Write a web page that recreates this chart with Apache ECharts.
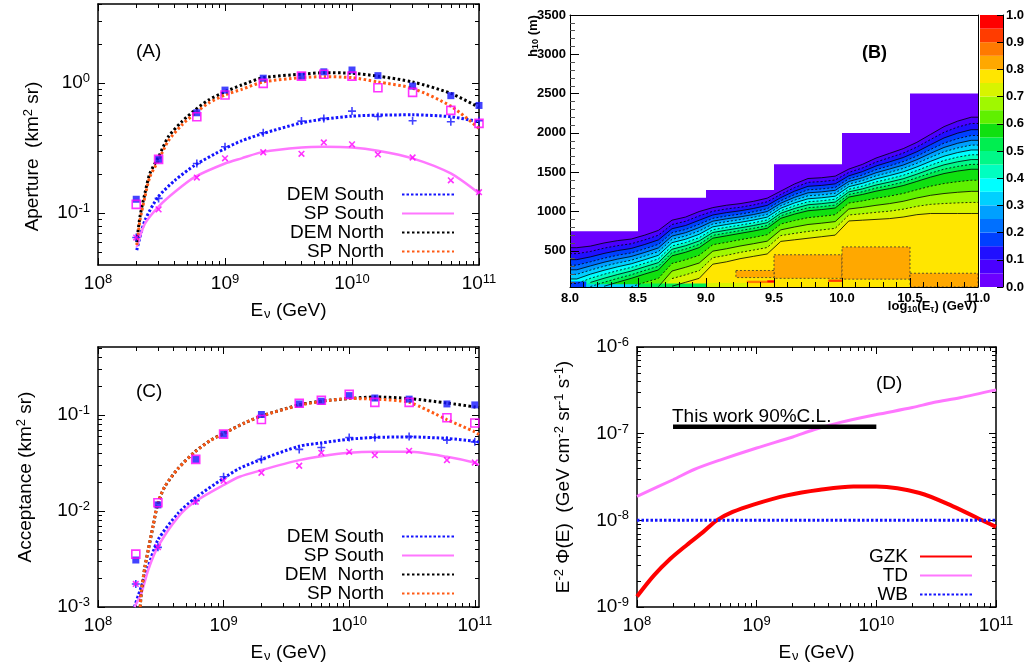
<!DOCTYPE html>
<html><head><meta charset="utf-8">
<script src="https://cdn.jsdelivr.net/npm/echarts@6/dist/echarts.min.js"></script>
<style>html,body{margin:0;padding:0;background:#fff}#c{width:1024px;height:671px}</style>
</head><body><div id="c"></div>
<script>
// ---------------- DATA ----------------
// Panels A and C: simulated energies of the points
const ptsE = [2e8,3e8,6e8,1e9,2e9,4e9,6e9,1e10,1.6e10,3e10,6e10,1e11];
// Panel A: aperture (km^2 sr)
const apDemSouthPts = [0.065,0.130,0.241,0.324,0.415,0.51,0.535,0.609,0.554,0.513,0.504,0.513];
const apSpSouthPts  = [0.065,0.107,0.188,0.264,0.294,0.286,0.35,0.338,0.283,0.268,0.179,0.145];
const apDemNorthPts = [0.128,0.259,0.591,0.883,1.09,1.13,1.22,1.26,1.14,0.948,0.80,0.673];
const apSpNorthPts  = [0.117,0.259,0.551,0.809,0.994,1.13,1.17,1.13,0.92,0.848,0.617,0.49];
const apNorthFitE   = [2.02e8,2.14e8,2.34e8,2.56e8,3e8,3.58e8,4.56e8,5.8e8,7.4e8,1e9,1.35e9,2e9,4e9,6e9,1e10,1.6e10,3e10,6e10,1e11];
const apDemNorthFit = [0.060,0.094,0.142,0.202,0.271,0.386,0.504,0.62,0.74,0.857,0.966,1.10,1.17,1.2,1.19,1.13,1.02,0.833,0.65];
const apSpNorthFit  = [0.057,0.088,0.133,0.19,0.256,0.36,0.475,0.585,0.70,0.81,0.894,1.02,1.1,1.12,1.1,1.02,0.91,0.665,0.448];
const apSouthFitE   = [2.02e8,2.34e8,2.99e8,4.04e8,5.8e8,1e9,1.35e9,2e9,4e9,6e9,1e10,1.6e10,3e10,6e10,1e11];
const apDemSouthFit = [0.052,0.088,0.134,0.179,0.234,0.314,0.36,0.41,0.495,0.528,0.557,0.567,0.57,0.551,0.504];
const apSpSouthFit  = [0.055,0.083,0.112,0.146,0.19,0.241,0.264,0.296,0.32,0.324,0.32,0.302,0.264,0.202,0.142];
// Panel C: acceptance (km^2 sr)
const accDemNorthPts = [3.09e-3,0.0116,0.0346,0.0634,0.1016,0.131,0.14,0.16,0.151,0.147,0.131,0.128];
const accSpNorthPts  = [3.56e-3,0.0122,0.0346,0.0634,0.090,0.133,0.143,0.165,0.136,0.136,0.094,0.083];
const accDemSouthPts = [1.74e-3,4.19e-3,0.0128,0.0228,0.0346,0.044,0.046,0.0586,0.0586,0.060,0.055,0.0527];
const accSpSouthPts  = [1.74e-3,4.2e-3,0.0125,0.0207,0.0251,0.0297,0.0405,0.0415,0.0383,0.0425,0.034,0.0321];
const accNorthFitE   = [2.17e8,2.21e8,2.36e8,2.51e8,2.74e8,3e8,3.4e8,4.35e8,5.9e8,7.9e8,1e9,1.47e9,2e9,4e9,6e9,1e10,1.6e10,3e10,6e10,1e11,1.08e11];
const accDemNorthFit = [1.0e-3,1.4e-3,2.6e-3,3.9e-3,6.9e-3,0.012,0.0179,0.0279,0.0415,0.055,0.0645,0.083,0.098,0.128,0.14,0.149,0.155,0.149,0.134,0.122,0.12];
const accSpNorthFit  = [1.0e-3,1.45e-3,2.6e-3,3.95e-3,7.0e-3,0.0122,0.018,0.0278,0.0413,0.0548,0.0643,0.083,0.098,0.127,0.139,0.149,0.147,0.136,0.090,0.067,0.063];
const accSouthFitE   = [1.95e8,2.21e8,2.51e8,3e8,4.35e8,5.9e8,1e9,1.34e9,2e9,4e9,6e9,1e10,1.6e10,3e10,6e10,1e11,1.08e11];
const accDemSouthFit = [1.0e-3,1.63e-3,2.63e-3,5.0e-3,9.5e-3,0.0136,0.022,0.0279,0.0346,0.0475,0.0514,0.0562,0.0586,0.0594,0.0572,0.0536,0.052];
const accSpSouthFit  = [1.0e-3,1.38e-3,2.43e-3,4.25e-3,8.7e-3,0.0125,0.0187,0.0228,0.0267,0.034,0.0374,0.0405,0.0415,0.0415,0.0368,0.0319,0.0302];
// Panel D: E^-2 Phi(E)
const gzkE  = [1e8,1.38e8,1.9e8,2.61e8,3.6e8,4.64e8,6.3e8,9.4e8,1.79e9,3.39e9,6.43e9,1e10,2.3e10,4.37e10,8.3e10,1e11];
const gzkFlux = [1.32e-9,2.3e-9,3.6e-9,5.2e-9,7.4e-9,1.0e-8,1.25e-8,1.52e-8,1.94e-8,2.25e-8,2.46e-8,2.45e-8,2.07e-8,1.45e-8,9.5e-9,8.4e-9];
const tdE   = [1e8,2e8,3e8,5e8,1e9,2e9,3e9,5e9,1e10,2e10,3e10,5e10,1e11];
const tdFlux = [1.89e-8,2.94e-8,3.86e-8,4.99e-8,6.84e-8,9.16e-8,1.11e-7,1.35e-7,1.66e-7,2.0e-7,2.29e-7,2.6e-7,3.2e-7];
const wbE = [1e8,1e11];
const wbFlux = [1e-8,1e-8];
const limitE = [2e8,1e10];
const limitFlux = [1.2e-7,1.2e-7];
// Tick labels
const eTickVals = [1e8,1e9,1e10,1e11];
const apTickVals = [0.1,1];
const accTickVals = [1e-3,1e-2,1e-1];
const fluxTickVals = [1e-9,1e-8,1e-7,1e-6];
const hTickVals = [500,1000,1500,2000,2500,3000,3500];
const hMinorVals = [100,200,300,400,600,700,800,900,1100,1200,1300,1400,1600,1700,1800,1900,2100,2200,2300,2400,2600,2700,2800,2900,3100,3200,3300,3400];
// Panel B: efficiency map. Column centres in log10(E/GeV)
const bColCentres = [8.05,8.15,8.25,8.35,8.45,8.55,8.65,8.75,8.85,8.95,9.05,9.15,9.25,9.35,9.45,9.55,9.65,9.75,9.85,9.95,10.05,10.15,10.25,10.35,10.45,10.55,10.65,10.75,10.85,10.95];
// top of the filled (staircase) region
const bStepX   = [8.0,8.5,9.0,9.5,10.0,10.5,11.0];
const bStepTop = [750,1175,1275,1600,2000,2500,2500];
// per column: height (m) below which efficiency exceeds 0.05,0.10,...,0.75 (0 = never)
const bContours = [
 [540,464,388,318,259,201,142,84,25,0,0,0,0,0,0],
 [560,492,423,360,308,255,203,150,98,45,0,0,0,0,0],
 [600,534,467,406,355,304,253,202,151,100,49,0,0,0,0],
 [630,566,503,444,395,346,297,248,199,150,101,0,0,0,0],
 [650,590,530,474,428,381,335,289,243,196,150,43,0,0,0],
 [700,640,581,526,480,434,388,342,297,251,205,99,0,0,0],
 [760,699,639,583,537,490,443,397,350,304,257,150,43,0,0],
 [890,835,781,730,688,646,604,562,520,478,436,340,243,147,50],
 [930,876,822,772,731,689,648,606,565,523,482,386,291,195,100],
 [1000,945,889,838,796,753,711,668,626,583,541,443,345,248,150],
 [1050,1003,956,913,877,841,805,769,733,697,661,578,496,413,330],
 [1080,1033,986,943,907,871,835,799,763,727,691,608,526,443,360],
 [1100,1054,1009,967,932,897,862,827,792,757,722,641,561,480,400],
 [1130,1084,1039,997,962,927,892,857,822,787,752,671,591,510,430],
 [1170,1124,1078,1035,1000,964,929,893,858,822,787,705,623,542,460],
 [1260,1218,1177,1138,1106,1074,1042,1010,978,946,914,841,767,694,620],
 [1350,1304,1258,1215,1180,1144,1109,1073,1038,1002,967,885,803,722,640],
 [1420,1371,1321,1276,1238,1200,1162,1124,1086,1048,1010,922,835,747,660],
 [1430,1381,1332,1287,1250,1212,1175,1137,1100,1062,1025,939,852,766,680],
 [1450,1401,1352,1307,1270,1232,1195,1157,1120,1082,1045,959,872,786,700],
 [1540,1497,1454,1415,1382,1349,1316,1283,1250,1217,1184,1108,1032,956,880],
 [1600,1554,1508,1465,1430,1394,1359,1323,1288,1252,1217,1135,1053,972,890],
 [1680,1629,1579,1532,1493,1454,1415,1376,1337,1298,1259,1169,1079,990,900],
 [1740,1686,1632,1582,1541,1499,1458,1416,1375,1333,1292,1196,1101,1005,910],
 [1800,1743,1687,1635,1591,1548,1504,1461,1417,1374,1330,1230,1130,1030,930],
 [1880,1820,1760,1705,1659,1613,1567,1521,1475,1429,1383,1277,1172,1066,960],
 [1980,1915,1849,1789,1739,1689,1638,1588,1538,1488,1437,1322,1206,1091,975],
 [2080,2008,1936,1870,1815,1760,1704,1649,1594,1539,1483,1356,1229,1102,975],
 [2150,2074,1997,1927,1868,1809,1750,1692,1633,1574,1515,1380,1245,1110,975],
 [2200,2120,2041,1967,1906,1845,1783,1722,1661,1600,1538,1398,1257,1116,975]
];
// extra patches [x0, x1, h0, h1, level]
const bPatches = [
 [9.5,10.0,150,450,16],[9.22,9.5,160,250,16],[10.0,10.5,140,550,16],[10.5,11.0,40,215,16],
 [8.0,8.12,40,110,3],[8.12,8.5,40,75,6],[8.5,9.0,40,85,10],[9.0,9.3,40,90,14],
 [9.3,9.45,90,120,17],[9.45,9.5,95,125,19],[9.9,10.0,105,135,18]
];
const bLevelColors = ['#6c00ff','#4a00ff','#2010ff','#0040ff','#0070ff','#00a0ff','#00d0ff','#00ffff','#00ffc0','#00f888',
                      '#00ee50','#10e010','#60f000','#a0f800','#d8f400','#ffe600','#ffa800','#ff7a00','#ff3c00','#ff0000'];
const cbarLevels = [0,0.05,0.1,0.15,0.2,0.25,0.3,0.35,0.4,0.45,0.5,0.55,0.6,0.65,0.7,0.75,0.8,0.85,0.9,0.95,1.0];

// ---------------- STYLE HELPERS ----------------
const FONT = 'Liberation Sans';
const richG = {
  m:   {fontFamily: FONT, fontSize: 19, color: '#000'},
  sup: {fontFamily: FONT, fontSize: 13, color: '#000', padding: [0,0,9,0]},
  sub: {fontFamily: FONT, fontSize: 13, color: '#000', padding: [8,0,0,1]}
};
const richB = {
  b:   {fontFamily: FONT, fontWeight: 'bold', fontSize: 13, color: '#000'},
  sub: {fontFamily: FONT, fontWeight: 'bold', fontSize: 9, color: '#000', padding: [6,0,0,0]}
};
function powLabel(v) { return '{m|10}{sup|' + Math.round(Math.log10(v)) + '}'; }
function pairs(xs, ys) { return xs.map((x, i) => [x, ys[i]]); }
function minorsBetween(lo, hi, min, max) {
  const out = [];
  for (let d = lo; d < hi * 0.999; d *= 10) for (const m of [2,3,4,5,6,7,8,9]) {
    const v = +(m * d).toPrecision(3);
    if (v > min * 1.0001 && v < max * 0.9999) out.push(v);
  }
  return out;
}

const xAxes = [], yAxes = [], series = [];
const grids = [
  {left: 98, top: 4, width: 381, height: 261},
  {left: 570, top: 15, width: 408, height: 272},
  {left: 980, top: 15, width: 23, height: 272},
  {left: 98, top: 347, width: 381, height: 260},
  {left: 637, top: 347, width: 359, height: 260}
].map(g => Object.assign({show: false, containLabel: false, outerBoundsMode: 'none'}, g));

function addLogAxes(dim, gridIndex, min, max, majors, minorLo, minorHi, nameOpt) {
  const arr = dim === 'x' ? xAxes : yAxes;
  const p1 = dim === 'x' ? 'bottom' : 'left', p2 = dim === 'x' ? 'top' : 'right';
  const minors = minorsBetween(minorLo, minorHi, min, max);
  const mk = (pos, showLine, ticks, len, withLabel) => ({
    type: 'log', logBase: 10, gridIndex, min, max, position: pos,
    axisLine: {show: showLine, onZero: false, lineStyle: {color: '#000', width: 1.5}},
    axisTick: {show: true, inside: true, length: len, customValues: ticks, lineStyle: {color: '#000', width: 1}},
    axisLabel: withLabel ? {show: true, customValues: majors, formatter: powLabel, rich: richG, margin: 8} : {show: false},
    splitLine: {show: false}, minorTick: {show: false}, minorSplitLine: {show: false}
  });
  const start = arr.length;
  const main = mk(p1, true, majors, 7, true);
  if (nameOpt) Object.assign(main, nameOpt);
  arr.push(main, mk(p1, false, minors, 4, false), mk(p2, true, majors, 7, false), mk(p2, false, minors, 4, false));
  return start;
}
const eName = {name: '{m|E}{sub|ν}{m| (GeV)}', nameLocation: 'middle', nameGap: 35, nameTextStyle: {rich: richG}};

// Panel A axes
const xA = addLogAxes('x', 0, 1e8, 1e11, eTickVals, 1e8, 1e11, eName);
const yA = addLogAxes('y', 0, 0.04, 4.05, apTickVals, 0.01, 10,
  {name: '{m|Aperture  (km}{sup|2}{m| sr)}', nameLocation: 'middle', nameRotate: 90, nameGap: 54,
   nameTextStyle: {rich: richG, padding: [0,44,0,0]}});
// Panel B axes
const bX = xAxes.length;
xAxes.push({type: 'value', gridIndex: 1, min: 8, max: 11, interval: 0.5, position: 'bottom', z: 10,
  axisLine: {show: true, onZero: false, lineStyle: {color: '#000', width: 1}},
  axisTick: {show: true, inside: true, length: 9, lineStyle: {color: '#000'}},
  minorTick: {show: true, splitNumber: 5, length: 5, lineStyle: {color: '#000'}},
  axisLabel: {formatter: v => v.toFixed(1), fontFamily: FONT, fontWeight: 'bold', fontSize: 13, color: '#000', margin: 5},
  splitLine: {show: false}});
xAxes.push({type: 'value', gridIndex: 1, min: 8, max: 11, position: 'top', z: 10,
  axisLine: {show: true, onZero: false, lineStyle: {color: '#000', width: 1}},
  axisTick: {show: false}, axisLabel: {show: false}, splitLine: {show: false}});
const bY = yAxes.length;
yAxes.push({type: 'value', gridIndex: 1, min: 40, max: 3500, position: 'left', z: 10,
  axisLine: {show: true, onZero: false, lineStyle: {color: '#000', width: 1}},
  axisTick: {show: true, inside: true, length: 9, customValues: hTickVals, lineStyle: {color: '#000'}},
  axisLabel: {customValues: hTickVals, formatter: v => String(Math.round(v)), fontFamily: FONT, fontWeight: 'bold', fontSize: 13, color: '#000', margin: 4},
  splitLine: {show: false}});
yAxes.push({type: 'value', gridIndex: 1, min: 40, max: 3500, position: 'left', z: 10,
  axisLine: {show: false},
  axisTick: {show: true, inside: true, length: 5, customValues: hMinorVals, lineStyle: {color: '#555'}},
  axisLabel: {show: false}, splitLine: {show: false}});
yAxes.push({type: 'value', gridIndex: 1, min: 40, max: 3500, position: 'right', z: 10,
  axisLine: {show: true, onZero: false, lineStyle: {color: '#000', width: 1}},
  axisTick: {show: false}, axisLabel: {show: false}, splitLine: {show: false}});
// colour bar axes
const cbX = xAxes.length;
xAxes.push({type: 'value', gridIndex: 2, min: 0, max: 1, show: false});
const cbY = yAxes.length;
yAxes.push({type: 'value', gridIndex: 2, min: 0, max: 1, interval: 0.1, position: 'right', z: 10,
  axisLine: {show: true, onZero: false, lineStyle: {color: '#000', width: 1}},
  axisTick: {show: true, inside: true, length: 6, lineStyle: {color: '#000'}},
  axisLabel: {formatter: v => v.toFixed(1), fontFamily: FONT, fontWeight: 'bold', fontSize: 13, color: '#000', margin: 3},
  splitLine: {show: false}});
// Panel C axes
const xC = addLogAxes('x', 3, 1e8, 1.08e11, eTickVals, 1e8, 1e11, eName);
const yC = addLogAxes('y', 3, 1e-3, 0.514, accTickVals, 1e-3, 1,
  {name: '{m|Acceptance (km}{sup|2}{m| sr)}', nameLocation: 'middle', nameRotate: 90, nameGap: 61,
   nameTextStyle: {rich: richG}});
// Panel D axes
const xD = addLogAxes('x', 4, 1e8, 1e11, eTickVals, 1e8, 1e11, eName);
const yD = addLogAxes('y', 4, 1e-9, 1e-6, fluxTickVals, 1e-9, 1e-6,
  {name: '{m|E}{sup|-2}{m| Φ(E)  (GeV cm}{sup|-2}{m| sr}{sup|-1}{m| s}{sup|-1}{m|)}', nameLocation: 'middle', nameRotate: 90, nameGap: 62,
   nameTextStyle: {rich: richG}});

// ---------------- SERIES ----------------
const BLUE = '#1414ff', MAG = '#ff00ff', MAGL = '#ff77ff', ORG = '#ff5a14', BLK = '#000';
const PLUS = 'path://M-1,-5H1V-1H5V1H1V5H-1V1H-5V-1H-1Z';
function curve(name, xi, yi, xs, ys, color, width, type, smooth) {
  return {name, type: 'line', xAxisIndex: xi, yAxisIndex: yi, data: pairs(xs, ys), symbol: 'none',
    smooth: smooth || false,
    lineStyle: {color, width, type}, itemStyle: {color}, z: 3, silent: true};
}
function points(name, xi, yi, ys, kind) {
  const s = {name, type: 'scatter', xAxisIndex: xi, yAxisIndex: yi, data: pairs(ptsE, ys), z: 4, silent: true};
  if (kind === 'plus') Object.assign(s, {symbol: PLUS, symbolSize: 8, itemStyle: {color: BLUE}});
  if (kind === 'cross') Object.assign(s, {symbol: PLUS, symbolSize: 8, symbolRotate: 45, itemStyle: {color: MAG}});
  if (kind === 'box') Object.assign(s, {symbol: 'rect', symbolSize: 7, itemStyle: {color: BLUE}});
  if (kind === 'obox') Object.assign(s, {symbol: 'rect', symbolSize: 8, itemStyle: {color: 'rgba(255,255,255,0)', borderColor: MAG, borderWidth: 1.6}});
  return s;
}
const SM = 0.25;
// Panel A
series.push(curve('DEM South', xA, yA, apSouthFitE, apDemSouthFit, BLUE, 3, [2.5,2], SM));
series.push(curve('SP South', xA, yA, apSouthFitE, apSpSouthFit, MAGL, 2.5, 'solid', SM));
series.push(curve('DEM North', xA, yA, apNorthFitE, apDemNorthFit, BLK, 3, [2.5,2.5], SM));
series.push(curve('SP North', xA, yA, apNorthFitE, apSpNorthFit, ORG, 3, [2.5,2.5], SM));
series.push(points('A DEM S pts', xA, yA, apDemSouthPts, 'plus'));
series.push(points('A SP S pts', xA, yA, apSpSouthPts, 'cross'));
series.push(points('A DEM N pts', xA, yA, apDemNorthPts, 'box'));
series.push(points('A SP N pts', xA, yA, apSpNorthPts, 'obox'));
// Panel C
series.push(curve('DEM South', xC, yC, accSouthFitE, accDemSouthFit, BLUE, 3, [2.5,2], SM));
series.push(curve('SP South', xC, yC, accSouthFitE, accSpSouthFit, MAGL, 2.5, 'solid', SM));
series.push(curve('DEM  North', xC, yC, accNorthFitE, accDemNorthFit, BLK, 3, [2.5,2.5], SM));
series.push(curve('SP North', xC, yC, accNorthFitE, accSpNorthFit, ORG, 3, [2.5,2.5], SM));
series.push(points('C DEM S pts', xC, yC, accDemSouthPts, 'plus'));
series.push(points('C SP S pts', xC, yC, accSpSouthPts, 'cross'));
series.push(points('C DEM N pts', xC, yC, accDemNorthPts, 'box'));
series.push(points('C SP N pts', xC, yC, accSpNorthPts, 'obox'));
// Panel D
series.push(curve('GZK', xD, yD, gzkE, gzkFlux, '#ff0000', 4, 'solid', 0.3));
series.push(curve('TD', xD, yD, tdE, tdFlux, MAGL, 3, 'solid', 0.3));
series.push(curve('WB', xD, yD, wbE, wbFlux, BLUE, 3, [2.5,2]));
series.push(curve('This work', xD, yD, limitE, limitFlux, BLK, 4.5, 'solid'));
// Panel B
const bEdgeX = [8.0].concat(bColCentres, [11.0]);
series.push({type: 'line', xAxisIndex: bX, yAxisIndex: bY, data: pairs(bStepX, bStepTop), step: 'end', symbol: 'none',
  lineStyle: {width: 0, opacity: 0}, areaStyle: {color: bLevelColors[0], opacity: 1, origin: 'start'}, silent: true, z: 2});
for (let k = 0; k < 15; k++) {
  const col = bContours.map(r => r[k]);
  const vals = [col[0]].concat(col, [col[col.length - 1]]);
  series.push({type: 'line', xAxisIndex: bX, yAxisIndex: bY, data: pairs(bEdgeX, vals), symbol: 'none',
    lineStyle: {width: 0, opacity: 0}, areaStyle: {color: bLevelColors[k + 1], opacity: 1, origin: 'start'}, silent: true, z: 2});
}
series.push({type: 'custom', xAxisIndex: bX, yAxisIndex: bY, data: bPatches, silent: true, z: 2,
  renderItem: (params, api) => {
    const lv = api.value(4);
    const a = api.coord([api.value(0), api.value(3)]), b = api.coord([api.value(1), api.value(2)]);
    return {type: 'rect', shape: {x: a[0], y: a[1], width: b[0] - a[0], height: b[1] - a[1]},
      style: {fill: bLevelColors[lv], stroke: lv === 16 ? '#333' : null, lineWidth: 0.8, lineDash: lv === 16 ? [2,2] : null}};
  }});
for (let k = 0; k < 15; k++) {
  const col = bContours.map(r => r[k]);
  const vals = [col[0]].concat(col, [col[col.length - 1]]).map(v => v > 40 ? v : null);
  series.push({type: 'line', xAxisIndex: bX, yAxisIndex: bY, data: pairs(bEdgeX, vals), symbol: 'none',
    lineStyle: {color: '#000', width: 0.8, type: k % 2 === 0 ? 'solid' : [2,2]}, silent: true, z: 3});
}
// colour bar
series.push({type: 'custom', xAxisIndex: cbX, yAxisIndex: cbY, silent: true,
  data: cbarLevels.slice(0, -1).map((lo, i) => [lo, cbarLevels[i + 1], i]),
  renderItem: (params, api) => {
    const a = api.coord([0, api.value(1)]), b = api.coord([1, api.value(0)]);
    return {type: 'rect', shape: {x: a[0], y: a[1], width: b[0] - a[0], height: b[1] - a[1]},
      style: {fill: bLevelColors[api.value(2)]}};
  }});

// ---------------- LEGENDS & TEXT ----------------
const legendBase = {orient: 'vertical', align: 'right', itemWidth: 52, itemHeight: 10, itemGap: 0, padding: 0,
  selectedMode: false, itemStyle: {opacity: 0, borderWidth: 0},
  textStyle: {fontSize: 19, fontFamily: FONT, color: '#000', padding: [0,13,0,0]}};
const legends = [
  Object.assign({}, legendBase, {data: ['DEM South','SP South','DEM North','SP North'], right: 569, top: 185}),
  Object.assign({}, legendBase, {data: ['DEM South','SP South','DEM  North','SP North'], right: 569, top: 527}),
  Object.assign({}, legendBase, {data: ['GZK','TD','WB'], right: 51, top: 547,
    textStyle: {fontSize: 19, fontFamily: FONT, color: '#000', padding: [0,7,0,0]}})
];
const tStyle = {fontSize: 19, fontWeight: 'normal', color: '#000', fontFamily: FONT};
const titles = [
  {text: '(A)', left: 136, top: 42, padding: 0, textStyle: tStyle},
  {text: '(B)', left: 862, top: 44, padding: 0, textStyle: {fontSize: 18, fontWeight: 'bold', color: '#000', fontFamily: FONT}},
  {text: '(C)', left: 136, top: 382, padding: 0, textStyle: tStyle},
  {text: '(D)', left: 876, top: 374, padding: 0, textStyle: tStyle},
  {text: 'This work 90%C.L.', left: 672, top: 407, padding: 0, textStyle: tStyle}
];

const chart = echarts.init(document.getElementById('c'));
chart.setOption({
  animation: false,
  backgroundColor: '#fff',
  textStyle: {fontFamily: FONT},
  title: titles,
  legend: legends,
  grid: grids,
  xAxis: xAxes,
  yAxis: yAxes,
  series: series,
  graphic: [
    {type: 'text', x: 533, y: 36, rotation: Math.PI / 2,
     style: {text: '{b|h}{sub|10}{b| (m)}', rich: richB, align: 'center', verticalAlign: 'middle'}},
    {type: 'text', x: 977, y: 299,
     style: {text: '{b|log}{sub|10}{b|(E}{sub|τ}{b|) (GeV)}', rich: richB, align: 'right', verticalAlign: 'top'}}
  ]
});
</script>
</body></html>
